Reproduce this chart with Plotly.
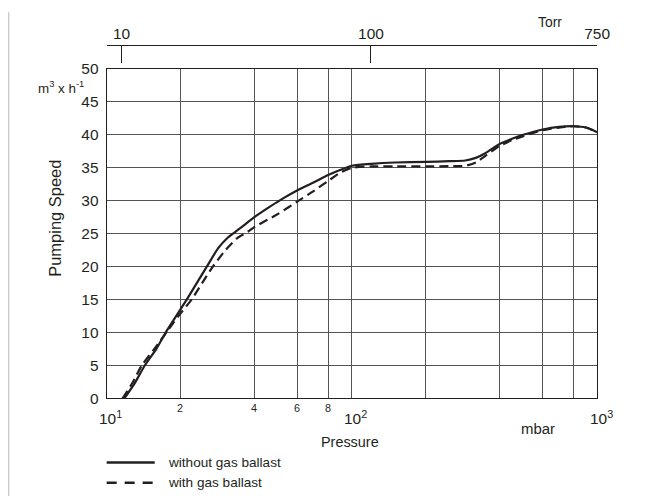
import numpy as np
import plotly.graph_objects as go

# ---- data ----
p_solid = [11.8, 13.0, 14.3, 16.0, 17.4, 19.2, 21.2, 23.3, 25.6, 28.5, 31.0, 33.0, 35.5, 40, 45, 51, 60, 70, 80, 90, 100,
           120, 150, 200, 250, 290, 320, 350, 400, 450, 500, 600, 700, 800, 900, 1000]
s_solid = [0, 2.3, 5.0, 7.6, 10.0, 12.5, 15.0, 17.5, 20.0, 22.8, 24.3, 25.1, 26.0, 27.5, 28.8, 30.1, 31.6, 32.8, 33.9, 34.7, 35.3,
           35.6, 35.8, 35.9, 36.0, 36.1, 36.5, 37.2, 38.6, 39.4, 40.0, 40.8, 41.2, 41.3, 41.1, 40.4]

p_dash = [11.6, 12.8, 13.9, 15.7, 17.5, 19.6, 22.2, 24.5, 27.1, 30.5, 34.0, 37.7, 40, 50, 60, 70, 80, 90, 100,
          120, 150, 200, 250, 290, 320, 350, 400, 450, 500, 600, 700, 800, 900, 1000]
s_dash = [0, 2.5, 5.0, 7.6, 10.0, 12.5, 15.0, 17.5, 20.0, 22.5, 24.3, 25.3, 26.0, 28.0, 29.9, 31.5, 33.0, 34.3, 35.0,
          35.2, 35.2, 35.2, 35.25, 35.3, 35.8, 36.8, 38.3, 39.2, 39.8, 40.7, 41.1, 41.3, 41.1, 40.4]

grid_x = [10, 20, 40, 60, 80, 100, 200, 400, 600, 800, 1000]
major_x = [10, 100, 1000]
major_labels = ["10<sup>1</sup>", "10<sup>2</sup>", "10<sup>3</sup>"]
minor_x = [20, 40, 60, 80]
minor_labels = ["2", "4", "6", "8"]
y_ticks = list(range(0, 55, 5))

top_tick_pos_mbar = [11.5, 119.6, 1000]
top_tick_labels = ["10", "100", "750"]

series_names = ["without gas ballast", "with gas ballast"]

# ---- page geometry ----
OFF = 8                      # body margin of the page
W, H = 648, 497
SX, BX = 0.979, 0.6          # observed render mapping (page -> picture)
SY, BY = 0.964, 9.5
FS = 1.03                    # font compensation
INK = "#231f20"
FONT = "Liberation Sans, Arial, Helvetica, sans-serif"


def px(x):
    return ((x - BX) / SX - OFF) / W


def py(y):
    return 1 - ((y - BY) / SY - OFF) / H


def f(s):
    return s * FS


fig = go.Figure()
fig.add_trace(go.Scatter(x=p_solid, y=s_solid, mode="lines", name=series_names[0],
                         line=dict(color=INK, width=2.2, shape="spline", smoothing=0.6),
                         showlegend=False))
fig.add_trace(go.Scatter(x=p_dash, y=s_dash, mode="lines", name=series_names[1],
                         line=dict(color=INK, width=2.2, dash="9px,5px", shape="spline", smoothing=0.6),
                         showlegend=False))
# invisible trace to activate the top (Torr) axis
fig.add_trace(go.Scatter(x=[10, 1000], y=[0, 0], xaxis="x2", yaxis="y", mode="lines",
                         line=dict(width=0), hoverinfo="skip", showlegend=False))

xdom = [px(107), px(597)]
fig.update_layout(
    width=W, height=H,
    margin=dict(l=0, r=0, t=0, b=0),
    paper_bgcolor="white", plot_bgcolor="white",
    font=dict(family=FONT, color=INK, size=13),
    xaxis=dict(type="log", range=[1, 3], domain=xdom, tickvals=grid_x, showticklabels=False,
               showgrid=True, gridcolor="#555555", gridwidth=1, ticks="",
               showline=True, linecolor=INK, linewidth=1.2, mirror=True, zeroline=False),
    yaxis=dict(range=[0, 50], domain=[py(398), py(69)], tickvals=y_ticks, showgrid=True,
               gridcolor="#555555", gridwidth=1, ticks="", ticklabelstandoff=4,
               tickfont=dict(size=f(15), color=INK),
               showline=True, linecolor=INK, linewidth=1.2, mirror=True, zeroline=False),
    xaxis2=dict(type="log", range=[1, 3], domain=xdom, overlaying="x", anchor="free",
                position=py(45), side="top", tickvals=top_tick_pos_mbar, ticktext=top_tick_labels,
                ticks="inside", ticklen=17.5, tickwidth=1, tickcolor=INK,
                tickfont=dict(size=f(15), color=INK),
                showline=True, linecolor=INK, linewidth=1, showgrid=False, zeroline=False),
)

ann = []
for v, t in zip(major_x, major_labels):
    ann.append(dict(x=np.log10(v), y=py(417), xref="x", yref="paper", text=t, showarrow=False,
                    xanchor="center", yanchor="middle", xshift=4, font=dict(size=f(15), color=INK)))
for v, t in zip(minor_x, minor_labels):
    ann.append(dict(x=np.log10(v), y=py(407.5), xref="x", yref="paper", text=t, showarrow=False,
                    xanchor="center", yanchor="middle", font=dict(size=f(10.5), color=INK)))
ann += [
    dict(x=px(350), y=py(441), xref="paper", yref="paper", text="Pressure", showarrow=False,
         xanchor="center", yanchor="middle", font=dict(size=f(14), color=INK)),
    dict(x=px(538), y=py(428), xref="paper", yref="paper", text="mbar", showarrow=False,
         xanchor="center", yanchor="middle", font=dict(size=f(14.5), color=INK)),
    dict(x=px(550), y=py(22), xref="paper", yref="paper", text="Torr", showarrow=False,
         xanchor="center", yanchor="middle", font=dict(size=f(13.5), color=INK)),
    dict(x=px(61), y=py(88), xref="paper", yref="paper", text="m<sup>3</sup> x h<sup>-1</sup>",
         showarrow=False, xanchor="center", yanchor="middle", font=dict(size=f(13), color=INK)),
    dict(x=px(56), y=py(218), xref="paper", yref="paper", text="Pumping Speed", textangle=-90,
         showarrow=False, xanchor="center", yanchor="middle", font=dict(size=f(16), color=INK)),
    dict(x=px(166), y=py(462), xref="paper", yref="paper", text=series_names[0], showarrow=False,
         xanchor="left", yanchor="middle", font=dict(size=f(13.2), color=INK)),
    dict(x=px(166), y=py(482), xref="paper", yref="paper", text=series_names[1], showarrow=False,
         xanchor="left", yanchor="middle", font=dict(size=f(13.2), color=INK)),
]
fig.update_layout(annotations=ann)

FRAME = dict(color="#c8c8c8", width=1.5)
shapes = [
    dict(type="line", xref="paper", yref="paper", x0=px(9), x1=px(9), y0=py(530), y1=1.01,
         line=FRAME, layer="below"),
    dict(type="line", xref="paper", yref="paper", x0=px(640), x1=px(640), y0=py(530), y1=1.01,
         line=FRAME, layer="below"),
    dict(type="line", xref="paper", yref="paper", x0=px(107), x1=px(155), y0=py(462), y1=py(462),
         line=dict(color=INK, width=2.5)),
    dict(type="line", xref="paper", yref="paper", x0=px(107), x1=px(156), y0=py(482), y1=py(482),
         line=dict(color=INK, width=2.5, dash="10px,8px")),
]
fig.update_layout(shapes=shapes)

fig.write_html("out.html")
